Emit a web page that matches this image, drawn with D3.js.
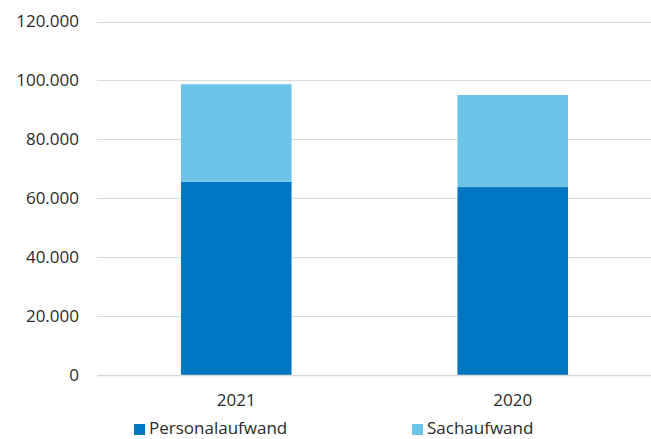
<!DOCTYPE html>
<html>
<head>
<meta charset="utf-8">
<script src="https://cdn.jsdelivr.net/npm/d3@7"></script>
<style>
  body { margin: 0; background: #fff; }
  text { font-family: "Open Sans", "Noto Sans", sans-serif; fill: #2b2b2b; }
</style>
</head>
<body>
<svg id="chart"></svg>
<script>
// data
const years = ["2021", "2020"];
const personalaufwand = [65600, 63800];
const sachaufwand = [33100, 31250];
const seriesNames = ["Personalaufwand", "Sachaufwand"];
const seriesColors = ["#0077c0", "#6cc4e9"];
const yTicks = [0, 20000, 40000, 60000, 80000, 100000, 120000];

const width = 651, height = 439;
const svg = d3.select("#chart").attr("width", width).attr("height", height);

const x = d3.scaleBand().domain(years).range([98, 651]).paddingInner(0.6).paddingOuter(0.3);
const y = d3.scaleLinear().domain([0, 120000]).range([375, 21.5]);

const fmt = v => d3.format(",")(v).replace(/,/g, ".");

// gridlines
svg.append("g").selectAll("line")
  .data(yTicks.filter(d => d > 0))
  .join("line")
  .attr("x1", 97).attr("x2", 651)
  .attr("y1", d => Math.round(y(d)) + 0.5).attr("y2", d => Math.round(y(d)) + 0.5)
  .attr("stroke", "#d6dbe0").attr("stroke-width", 1);

// stacked bars
const table = years.map((yr, i) => ({ year: yr, Personalaufwand: personalaufwand[i], Sachaufwand: sachaufwand[i] }));
const stacked = d3.stack().keys(seriesNames)(table);

svg.append("g").selectAll("g")
  .data(stacked)
  .join("g")
  .attr("fill", (d, i) => seriesColors[i])
  .selectAll("rect")
  .data(d => d)
  .join("rect")
  .attr("x", d => x(d.data.year))
  .attr("width", x.bandwidth())
  .attr("y", d => y(d[1]))
  .attr("height", d => y(d[0]) - y(d[1]));

// baseline
svg.append("line")
  .attr("x1", 97).attr("x2", 651)
  .attr("y1", y(0) + 0.5).attr("y2", y(0) + 0.5)
  .attr("stroke", "#d9d9d9").attr("stroke-width", 1.5);

// y tick labels
svg.append("g").selectAll("text")
  .data(yTicks)
  .join("text")
  .attr("x", 79).attr("y", d => y(d))
  .attr("dy", "0.35em")
  .attr("text-anchor", "end")
  .attr("font-size", 17)
  .text(fmt);

// x labels
svg.append("g").selectAll("text")
  .data(years)
  .join("text")
  .attr("x", d => x(d) + x.bandwidth() / 2)
  .attr("y", 406)
  .attr("text-anchor", "middle")
  .attr("font-size", 17)
  .text(d => d);

// legend
const legendX = [134, 412];
const legend = svg.append("g").selectAll("g")
  .data(seriesNames)
  .join("g")
  .attr("transform", (d, i) => `translate(${legendX[i]},0)`);
legend.append("rect")
  .attr("x", 0).attr("y", 424).attr("width", 11).attr("height", 11)
  .attr("fill", (d, i) => seriesColors[i]);
legend.append("text")
  .attr("x", 15).attr("y", 434)
  .attr("font-size", 17)
  .text(d => d);
</script>
</body>
</html>
